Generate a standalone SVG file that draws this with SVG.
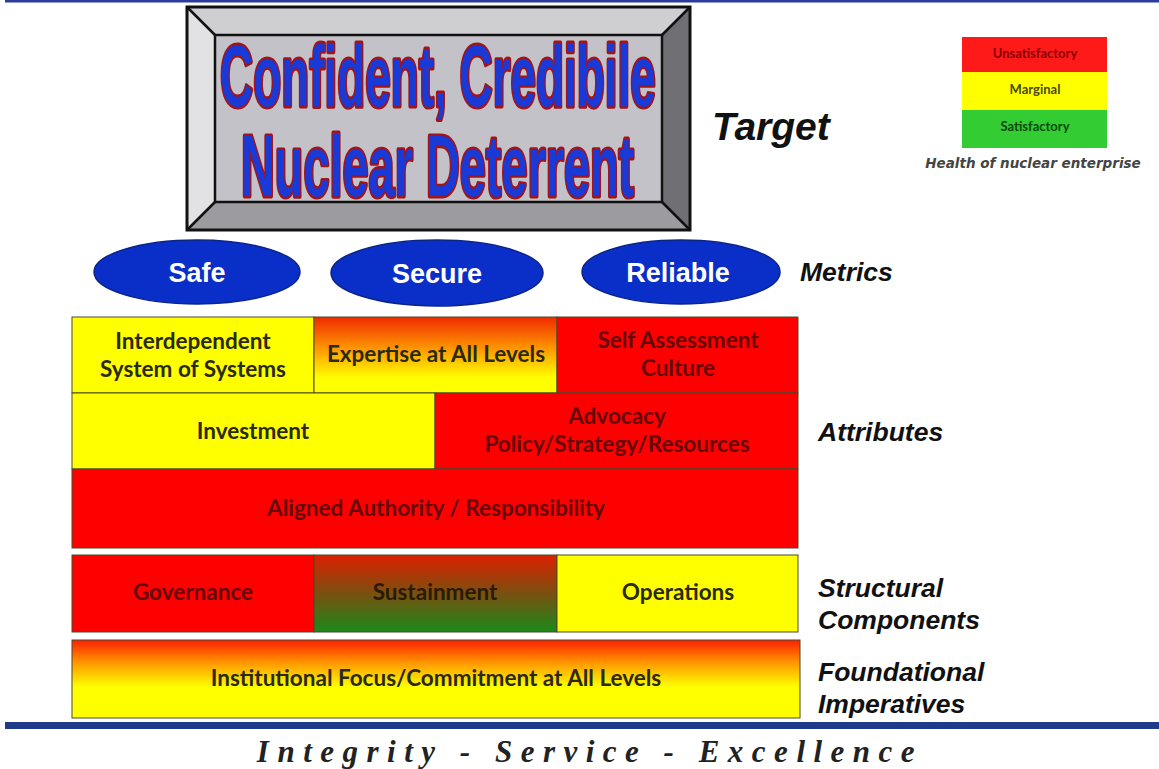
<svg xmlns="http://www.w3.org/2000/svg" width="1159" height="769" viewBox="0 0 1159 769">
<defs>
<style>
.blk{stroke:#4a4a2a;stroke-width:1}
.bt{font-family:Lato,"Liberation Sans",sans-serif;font-weight:bold;font-size:22.5px;text-anchor:middle}
.onY{fill:#2a2a10}
.onR{fill:#640808}
.lbl{font-family:"Liberation Sans",Arial,sans-serif;font-weight:bold;font-style:italic;font-size:26.5px;fill:#111}
.met{fill:#0a2ec8;stroke:#0a2488;stroke-width:1.5}
.mt{font-family:"Liberation Sans",Arial,sans-serif;font-weight:bold;font-size:27px;fill:#fff;text-anchor:middle}
.big{font-family:"Liberation Sans",Arial,sans-serif;font-weight:bold;font-size:88px;fill:#1a3ad8;stroke:#a0141a;stroke-width:5;paint-order:stroke;stroke-linejoin:round}
.lg{font-family:Lato,"Liberation Sans",sans-serif;font-weight:bold;font-size:13px;text-anchor:middle}
</style>
<linearGradient id="gExp" x1="0" y1="0" x2="0" y2="1">
<stop offset="0" stop-color="#f02a00"/>
<stop offset="0.45" stop-color="#ffa000"/>
<stop offset="0.8" stop-color="#ffff00"/>
<stop offset="1" stop-color="#ffff00"/>
</linearGradient>
<linearGradient id="gSus" x1="0" y1="0" x2="0" y2="1">
<stop offset="0" stop-color="#dd2000"/>
<stop offset="0.5" stop-color="#7a5010"/>
<stop offset="1" stop-color="#1a8a1a"/>
</linearGradient>
<linearGradient id="gFnd" x1="0" y1="0" x2="0" y2="1">
<stop offset="0" stop-color="#ff2000"/>
<stop offset="0.3" stop-color="#ff9a00"/>
<stop offset="0.6" stop-color="#ffff00"/>
<stop offset="1" stop-color="#ffff00"/>
</linearGradient>
</defs>
<rect width="1159" height="769" fill="#ffffff"/>
<rect x="5" y="0" width="1154" height="2.5" fill="#2b3c9c"/>
<rect x="5" y="722" width="1154" height="7" fill="#1f3a8a"/>

<g id="target">
<polygon points="187,7 690,7 662,35 215,35" fill="#cfcfd2"/>
<polygon points="187,7 215,35 215,202 187,230" fill="#e2e2e4"/>
<polygon points="690,7 690,230 662,202 662,35" fill="#707074"/>
<polygon points="187,230 690,230 662,202 215,202" fill="#9c9ca0"/>
<rect x="187" y="7" width="503" height="223" fill="none" stroke="#111" stroke-width="3"/>
<rect x="215" y="35" width="447" height="167" fill="#c2c2c8" stroke="#111" stroke-width="2.5"/>
<line x1="187" y1="7" x2="215" y2="35" stroke="#111" stroke-width="2.5"/>
<line x1="690" y1="7" x2="662" y2="35" stroke="#111" stroke-width="2.5"/>
<line x1="187" y1="230" x2="215" y2="202" stroke="#111" stroke-width="2.5"/>
<line x1="690" y1="230" x2="662" y2="202" stroke="#111" stroke-width="2.5"/>
<text class="big" transform="translate(220,106) scale(0.5215,1)">Confident, Credibile</text>
<text class="big" transform="translate(241,196) scale(0.5325,1)">Nuclear Deterrent</text>
</g>
<text class="lbl" x="712" y="140" style="font-size:39px">Target</text>

<g id="legend">
<rect x="962" y="37" width="145" height="35" fill="#ff1a1a"/>
<rect x="962" y="72" width="145" height="38" fill="#ffff00"/>
<rect x="962" y="110" width="145" height="38" fill="#33cc33"/>
<text class="lg" x="1035" y="58" fill="#8a0000">Unsatisfactory</text>
<text class="lg" x="1035" y="94" fill="#4a4a00">Marginal</text>
<text class="lg" x="1035" y="131" fill="#0a4a0a">Satisfactory</text>
<text x="1033" y="168" font-family="DejaVu Sans,Verdana,sans-serif" font-weight="bold" font-style="oblique" font-size="13.5" fill="#444" text-anchor="middle">Health of nuclear enterprise</text>
</g>

<g id="metric-safe"><ellipse class="met" cx="197" cy="272" rx="103" ry="32"/><text class="mt" x="197" y="282">Safe</text></g>
<g id="metric-secure"><ellipse class="met" cx="437" cy="273" rx="106" ry="33"/><text class="mt" x="437" y="283">Secure</text></g>
<g id="metric-reliable"><ellipse class="met" cx="681" cy="272" rx="99" ry="32"/><text class="mt" x="678" y="282">Reliable</text></g>
<text class="lbl" x="800" y="281">Metrics</text>

<g id="attr-interdependent"><rect class="blk" x="72" y="317" width="242" height="76" fill="#ffff00"/><text class="bt onY" x="193" y="349">Interdependent</text><text class="bt onY" x="193" y="377">System of Systems</text></g>
<g id="attr-expertise"><rect class="blk" x="314" y="317" width="243" height="76" fill="url(#gExp)"/><text class="bt onY" x="436" y="362">Expertise at All Levels</text></g>
<g id="attr-selfassessment"><rect class="blk" x="557" y="317" width="241" height="76" fill="#ff0000"/><text class="bt onR" x="678" y="348">Self Assessment</text><text class="bt onR" x="678" y="376">Culture</text></g>
<g id="attr-investment"><rect class="blk" x="72" y="393" width="363" height="76" fill="#ffff00"/><text class="bt onY" x="253" y="439">Investment</text></g>
<g id="attr-advocacy"><rect class="blk" x="435" y="393" width="363" height="76" fill="#ff0000"/><text class="bt onR" x="617" y="424">Advocacy</text><text class="bt onR" x="617" y="452">Policy/Strategy/Resources</text></g>
<g id="attr-aligned"><rect class="blk" x="72" y="469" width="726" height="79" fill="#ff0000"/><text class="bt onR" x="436" y="516">Aligned Authority / Responsibility</text></g>
<text class="lbl" x="818" y="441">Attributes</text>

<g id="sc-governance"><rect class="blk" x="72" y="555" width="242" height="77" fill="#ff0000"/><text class="bt onR" x="193" y="600">Governance</text></g>
<g id="sc-sustainment"><rect class="blk" x="314" y="555" width="243" height="77" fill="url(#gSus)"/><text class="bt" x="435" y="600" fill="#2a1a00">Sustainment</text></g>
<g id="sc-operations"><rect class="blk" x="557" y="555" width="241" height="77" fill="#ffff00"/><text class="bt onY" x="678" y="600">Operations</text></g>
<text class="lbl" x="818" y="597">Structural</text>
<text class="lbl" x="818" y="629">Components</text>

<g id="fi-institutional"><rect class="blk" x="72" y="640" width="728" height="78" fill="url(#gFnd)"/><text class="bt onY" x="436" y="686">Institutional Focus/Commitment at All Levels</text></g>
<text class="lbl" x="818" y="681">Foundational</text>
<text class="lbl" x="818" y="713">Imperatives</text>

<text x="590" y="762" font-family="Liberation Serif,Times New Roman,serif" font-weight="bold" font-style="italic" font-size="31" letter-spacing="8.5" fill="#222" text-anchor="middle">Integrity - Service - Excellence</text>
</svg>
